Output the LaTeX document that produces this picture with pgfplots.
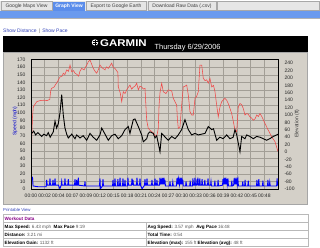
\documentclass[border=0pt]{standalone}
\usepackage{fontspec}
\setmainfont{Liberation Sans}
\usepackage{pgfplots}
\pgfplotsset{compat=1.18}
\definecolor{panel}{HTML}{D4D0C8}
\definecolor{gridc}{HTML}{A29E96}
\definecolor{tabgray}{HTML}{E6E6E6}
\definecolor{tabline}{HTML}{A8A8A8}
\definecolor{tabblue}{HTML}{5B8DEB}
\definecolor{barblue}{HTML}{6A9AEE}
\definecolor{linkblue}{HTML}{3344BB}
\definecolor{elev}{HTML}{F04848}
\definecolor{wpurple}{HTML}{880088}
\definecolor{valgray}{HTML}{555555}
\newcommand\tf{\fontsize{5}{6}\selectfont}
\newcommand\tbf{\fontsize{4.6}{5.5}\selectfont}
\begin{document}
\begin{tikzpicture}
\useasboundingbox (0,0) rectangle (320pt,-247pt);
\begin{scope}[x=1pt,y=-1pt]
\fill[white] (0,0) rectangle (320,247);
% tab bar
\fill[tabgray] (0,1) rectangle (320,10.5);
\draw[tabline,line width=0.4pt] (217,1.5) rectangle (319.5,10.5);
\draw[tabline,fill=tabgray,line width=0.4pt] (1,1.5) rectangle (52,10.5);
\fill[tabblue] (53,1.5) rectangle (85,10.5);
\draw[tabline,fill=tabgray,line width=0.4pt] (86,1.5) rectangle (146,10.5);
\draw[tabline,fill=tabgray,line width=0.4pt] (148,1.5) rectangle (216,10.5);
\node[text=black!75,inner sep=0] at (26.5,6) {\tf Google Maps View};
\node[text=white,inner sep=0] at (69,6) {\tf\bfseries Graph View};
\node[text=black!75,inner sep=0] at (116,6) {\tf Export to Google Earth};
\node[text=black!75,inner sep=0] at (182,6) {\tf Download Raw Data (.csv)};
\fill[barblue] (0,11) rectangle (320,17.5);
\fill[gray!60] (0,17.5) rectangle (320,18.3);
% links
\node[anchor=base west,inner sep=0,text=linkblue] at (3,32.5) {\tf Show Distance \textcolor{black!60}{\,|\,} Show Pace};
% header
\fill[black] (3,36) rectangle (308,52);
\fill[white] (95,42.5) circle (3.2);
\draw[black,line width=0.5pt] (92.5,41.5) -- (97.5,41.5) (93,43.5) -- (97,43.5) (95,39.5) -- (95,45.5);
\node[anchor=base west,inner sep=0,text=white,xscale=1.17] at (100,46.6) {\fontsize{9.8}{10}\selectfont\bfseries GARMIN};
\node[anchor=base west,inner sep=0,text=white] at (154.5,49.6) {\fontsize{7.4}{8}\selectfont Thursday 6/29/2006};
% panel
\fill[panel] (3,52) rectangle (307.5,204);
\draw[gray!70,line width=0.4pt] (3,52) rectangle (307.5,204);
\node[rotate=90,inner sep=0,text=blue!80!black] at (15,121) {\tf Speed (mph)};
\node[rotate=90,inner sep=0,text=black!80] at (297,123.5) {\tf Elevation (ft)};
% printable view
\node[anchor=base west,inner sep=0,text=linkblue] at (3,211.8) {\fontsize{4.3}{5}\selectfont Printable View};
% table
\draw[gray!55,line width=0.4pt] (3,214) rectangle (308,246.5);
\draw[gray!55,line width=0.4pt] (3,222) -- (308,222) (3,230) -- (308,230) (3,238) -- (308,238) (146,222) -- (146,246.5);
\node[anchor=base west,inner sep=0,text=wpurple] at (4.5,220.3) {\tbf\bfseries Workout Data};
\node[anchor=base west,inner sep=0] at (4.5,228.3) {\tbf\bfseries Max Speed: \textcolor{valgray}{\mdseries 6.43 mph}\ \ Max Pace \textcolor{valgray}{\mdseries 9:19}};
\node[anchor=base west,inner sep=0] at (147.5,228.3) {\tbf\bfseries Avg Speed: \textcolor{valgray}{\mdseries 3.57 mph}\ \ Avg Pace \textcolor{valgray}{\mdseries 16:48}};
\node[anchor=base west,inner sep=0] at (4.5,236.3) {\tbf\bfseries Distance: \textcolor{valgray}{\mdseries 3.21 mi}};
\node[anchor=base west,inner sep=0] at (147.5,236.3) {\tbf\bfseries Total Time: \textcolor{valgray}{\mdseries 0:54}};
\node[anchor=base west,inner sep=0] at (4.5,244.3) {\tbf\bfseries Elevation Gain: \textcolor{valgray}{\mdseries 1132 ft}};
\node[anchor=base west,inner sep=0] at (147.5,244.3) {\tbf\bfseries Elevation (max): \textcolor{valgray}{\mdseries 155 ft}\ Elevation (avg): \textcolor{valgray}{\mdseries 48 ft}};
\end{scope}
% ---- axis 1: left scale, background and grid
\begin{axis}[at={(31pt,-189pt)}, anchor=south west, scale only axis,
  width=247pt, height=129.5pt,
  xmin=0, xmax=54, ymin=0, ymax=170,
  axis background/.style={fill=panel},
  xtick={0,3,...,51},
  xticklabels={00:00,00:02,00:04,00:07,00:09,00:12,00:15,00:18,00:21,00:24,00:27,00:30,00:33,00:36,00:39,00:42,00:45,00:48,00:51},
  ytick={0,10,...,170},
  grid=major, major grid style={gridc,line width=0.45pt},
  major tick length=0pt,
  axis y line*=left, axis x line*=bottom,
  axis line style={black,line width=0.8pt,-},
  /pgf/number format/assume math mode=true,
  tick label style={font=\tf,text=black!85},
  yticklabel style={xshift=-2pt},
  xticklabel style={yshift=-1pt},
]
\end{axis}
% ---- axis 2: elevation (right)
\begin{axis}[at={(31pt,-189pt)}, anchor=south west, scale only axis,
  width=247pt, height=129.5pt,
  xmin=0, xmax=54, ymin=-100, ymax=250,
  axis x line=none, axis y line*=right,
  ytick={-100,-80,...,240},
  major tick length=0pt,
  axis line style={black,line width=0.8pt,-},
  /pgf/number format/assume math mode=true,
  tick label style={font=\tf,text=black!85},
  yticklabel style={xshift=3pt},
]
\addplot[elev,line width=0.55pt] coordinates {
(0,-10) (0.15,20) (0.3,90) (0.5,122) (1.25,136) (2.0,139) (2.8,140) (3.5,139) (4.1,142) (4.3,165) (4.5,172)
(5.0,175) (5.3,181) (5.8,190) (6.34,203) (6.8,205) (7.06,213) (7.4,209) (7.8,222) (8.2,218) (8.53,235)
(8.9,217) (9.3,220) (9.62,213) (10.0,210) (10.4,205) (10.7,218) (11.08,226) (11.6,222) (12.18,235)
(12.53,244) (12.9,249) (13.3,236) (13.62,226) (14.0,218) (14.36,213) (14.7,222) (15.08,235) (15.5,228)
(16.18,222) (16.5,230) (16.9,226) (17.64,240) (18.0,228) (18.36,226) (18.7,220) (19.0,215) (19.08,176)
(19.5,160) (19.83,136) (20.18,163) (20.55,158) (21.0,170) (21.64,181) (22.0,170) (22.36,175) (22.73,178)
(23.11,186) (23.46,168) (23.8,178) (24.2,176) (24.55,170) (24.92,172) (25.29,86) (25.64,64) (26.01,59)
(26.38,55) (26.73,52) (27.11,45) (27.48,42) (27.83,64) (28.0,127) (28.2,160) (28.57,186) (28.92,163)
(29.5,158) (30.01,168) (30.76,165) (31.11,145) (31.85,127) (32.0,90) (32.2,64) (32.57,68) (32.94,127)
(33.29,176) (33.7,178) (34.04,181) (34.39,154) (34.76,109) (35.13,100) (35.48,100) (35.85,145) (36.2,150)
(36.57,163) (36.94,235) (37.32,235) (37.67,199) (38.04,193) (38.41,195) (38.76,186) (39.13,199) (39.5,176)
(39.9,180) (40.22,163) (40.59,127) (40.94,95) (41.32,122) (41.69,136) (42.0,140) (42.41,145) (42.78,140)
(43.13,131) (43.5,118) (43.87,104) (44.2,85) (44.59,59) (44.97,55) (45.32,122) (45.69,131) (46.06,128)
(46.4,118) (46.78,100) (47.15,104) (47.5,102) (47.87,95) (48.2,92) (48.6,86) (49.0,90) (49.34,100)
(49.7,96) (50.06,104) (50.5,95) (51.15,77) (51.87,59) (52.62,41) (53.34,28) (54.0,1)
};
\end{axis}
% ---- axis 3: left scale data
\begin{axis}[at={(31pt,-189pt)}, anchor=south west, scale only axis,
  width=247pt, height=129.5pt,
  xmin=0, xmax=54, ymin=0, ymax=170, hide axis]
\addplot[black,line width=0.9pt] coordinates {
(0,72) (0.15,73) (0.6,76) (1.0,71) (1.5,74) (2.34,69) (2.8,72) (3.4,70) (3.78,74) (4.2,68) (4.87,75)
(5.25,89) (5.6,80) (5.97,86) (6.34,100) (6.71,124) (7.06,97) (7.43,80) (7.8,72) (8.15,67) (8.9,72)
(9.62,66) (9.99,71) (10.71,67) (11.4,70) (12.18,64) (12.9,73) (13.6,68) (14.36,64) (15.08,71) (15.46,80)
(16.18,72) (16.9,64) (17.64,70) (18.36,72) (19.08,66) (19.83,70) (20.55,78) (21.27,82) (21.64,73)
(22.36,91) (22.73,92) (23.46,82) (24.2,71) (24.55,62) (25.29,66) (25.64,73) (26.01,75) (26.73,73)
(27.11,67) (27.48,70) (28.2,49) (28.57,73) (29.2,69) (30.01,64) (30.76,69) (31.5,66) (32.2,71) (32.94,78)
(33.66,91) (34.39,78) (35.13,71) (35.85,73) (36.57,71) (37.3,72) (38.04,73) (38.76,82) (39.5,78) (39.9,79)
(40.59,64) (41.3,68) (42.0,66) (42.78,71) (43.5,66) (44.2,68) (44.59,78) (44.97,71) (45.69,49) (46.06,69)
(46.78,66) (47.15,71) (47.87,69) (48.6,66) (49.34,69) (50.06,68) (50.8,66) (51.52,64) (52.2,66)
(52.97,69) (53.71,71) (54.0,72)
};
\addplot[blue,line width=0.9pt] coordinates {
(0,4) (0.1,15) (0.2,14) (0.33,15) (0.45,4) (1.5,3) (3.3,3) (3.43,12) (3.55,5) (4.05,5) (4.15,14) (4.25,5)
(4.71,5) (4.81,12) (4.91,5) (5.15,5) (5.25,14) (5.35,5) (6.0,5) (6.3,0.5) (6.6,5) (6.71,10) (6.81,5)
(7.33,5) (7.43,14) (7.53,5) (8.05,5) (8.15,13) (8.25,5) (9.52,5) (9.62,13) (9.72,5) (9.89,5) (9.99,12)
(10.09,5) (10.24,5) (10.34,15) (10.44,5) (11.7,4) (11.8,10) (11.9,4) (13,4) (14.98,4) (15.08,14)
(15.18,0.5) (15.64,4) (15.74,13) (15.84,4) (17.83,4) (17.93,12) (18.03,4) (18.26,4) (18.36,14) (18.46,4)
(18.9,4) (19.0,13) (19.1,4) (19.36,4) (19.46,15) (19.56,4) (20.01,4) (20.11,14) (20.21,4) (20.45,4)
(20.55,12) (20.65,4) (21.1,4) (21.2,15) (21.3,5) (21.98,5) (22.08,14) (22.18,5) (22.3,12) (22.4,5)
(23.07,5) (23.17,15) (23.27,5) (23.73,5) (23.83,14) (23.93,5) (24.3,0.5) (24.82,5) (24.92,13) (25.02,5)
(25.26,5) (25.36,14) (25.46,5) (26.35,5) (26.45,12) (26.55,5) (27.01,5) (27.11,14) (27.21,5) (27.44,5)
(27.54,12) (27.64,5) (28.1,5) (28.2,15) (28.3,6) (28.42,13) (28.53,6) (28.64,15) (28.75,6) (28.86,14)
(28.96,6) (29.07,15) (29.18,6) (29.29,12) (29.39,4) (30.29,4) (30.39,10) (30.49,4) (30.9,4) (31.0,9)
(31.1,4) (31.8,4) (31.9,14) (32.0,6) (32.1,15) (32.2,6) (32.3,13) (32.45,6) (32.6,15) (32.7,6) (32.8,14)
(32.9,6) (33.0,15) (33.1,6) (33.2,12) (33.3,4) (33.8,4) (33.9,10) (34.0,4) (34.7,4) (34.8,11) (34.9,4)
(35.3,4) (35.4,14) (35.5,5) (35.75,5) (35.85,15) (35.95,5) (36.2,5) (36.3,13) (36.4,5) (36.5,15) (36.6,5)
(36.8,5) (36.9,14) (37.0,5) (37.3,5) (37.4,13) (37.5,5) (37.9,5) (38.0,12) (38.1,5) (38.6,5) (38.7,14)
(38.8,5) (39.25,5) (39.35,10) (39.45,4) (40.1,4) (40.2,11) (40.3,4) (40.8,4) (40.9,12) (41.0,4) (41.87,5)
(41.97,13) (42.07,6) (42.2,15) (42.3,6) (42.4,14) (42.5,6) (42.6,15) (42.7,6) (42.8,13) (42.9,6)
(43.06,14) (43.16,4) (43.8,4) (43.9,11) (44.0,4) (44.3,5) (44.4,14) (44.5,6) (44.6,15) (44.7,6) (44.8,13)
(44.9,6) (45.0,15) (45.1,6) (45.25,12) (45.35,4) (46.2,4) (46.3,10) (46.4,4) (46.7,4) (46.8,12) (46.9,4)
(47.4,4) (47.5,11) (47.6,4) (49.3,4) (49.4,12) (49.5,4) (49.7,4) (49.8,13) (49.9,4) (50.6,4) (50.7,11)
(50.8,4) (51.7,4) (51.8,12) (51.9,4) (52.1,4) (52.2,9) (52.3,4) (53.7,4) (53.8,14) (53.9,5) (54,5)
};
\end{axis}
% frame on top
\begin{axis}[at={(31pt,-189pt)}, anchor=south west, scale only axis,
  width=247pt, height=129.5pt,
  xmin=0, xmax=54, ymin=0, ymax=170, ticks=none,
  axis line style={black,line width=0.8pt}]
\end{axis}
\end{tikzpicture}
\end{document}
